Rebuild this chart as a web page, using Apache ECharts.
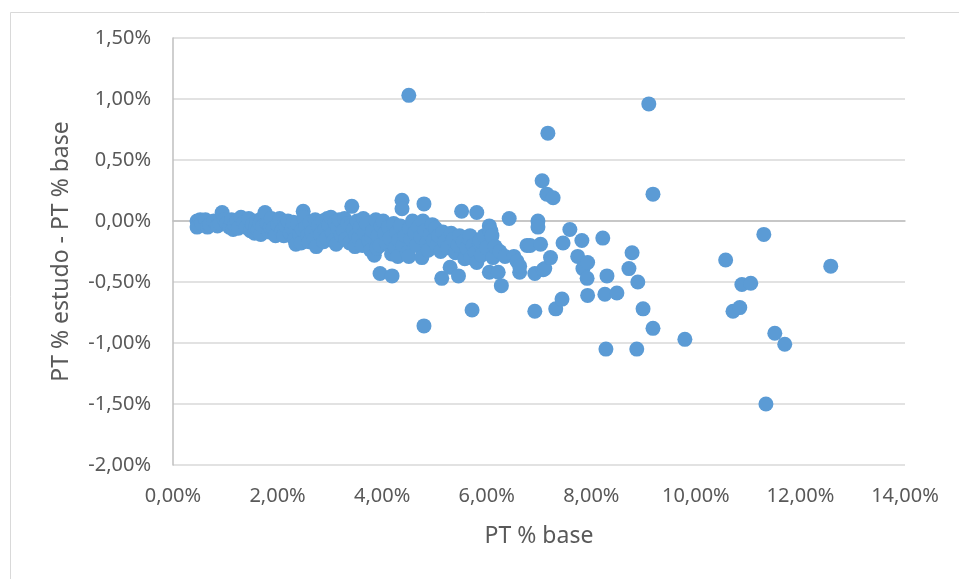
<!DOCTYPE html>
<html>
<head>
<meta charset="utf-8">
<script src="https://cdn.jsdelivr.net/npm/echarts@6/dist/echarts.min.js"></script>
<style>
html,body{margin:0;padding:0;background:#fff;}
#chart{width:959px;height:579px;}
</style>
</head>
<body>
<div id="chart"></div>
<script>
// PT % base (x) and PT % estudo - PT % base (y), in percent
const ptBase = [
  0.46,0.46,0.52,0.55,0.62,0.66,0.70,0.78,0.85,0.90,0.94,0.98,
  1.02,1.08,1.12,1.15,1.18,1.22,1.25,1.30,1.35,1.40,1.45,1.48,
  1.52,1.56,1.58,1.60,1.63,1.66,1.68,1.70,1.72,1.76,1.80,1.84,1.86,1.88,1.92,1.96,
  2.00,2.04,2.08,2.12,2.14,2.16,2.20,2.24,2.28,2.30,2.32,2.35,2.38,2.42,2.45,2.47,2.49,2.50,
  2.54,2.58,2.60,2.62,2.66,2.70,2.72,2.74,2.78,2.82,2.86,2.88,2.90,2.94,2.95,2.98,
  3.02,3.05,3.08,3.10,3.12,3.15,3.18,3.22,3.26,3.28,3.30,3.34,3.38,3.40,3.42,3.45,3.48,3.50,
  3.52,3.55,3.58,3.62,3.64,3.66,3.70,3.74,3.78,3.80,3.82,3.85,3.88,3.90,3.92,3.96,3.96,3.98,
  4.02,4.05,4.08,4.12,4.15,4.18,4.19,4.22,4.25,4.28,4.30,4.32,4.35,4.38,4.38,4.40,4.44,4.48,
  4.51,4.51,4.52,4.55,4.58,4.62,4.66,4.70,4.74,4.76,4.78,4.80,4.80,4.82,4.85,4.88,4.92,4.96,4.98,
  5.02,5.05,5.08,5.12,5.14,5.16,5.20,5.25,5.30,5.32,5.36,5.40,5.45,5.46,5.48,5.52,
  5.55,5.58,5.62,5.66,5.68,5.70,5.72,5.74,5.78,5.81,5.81,5.86,5.87,5.90,5.95,6.00,6.05,6.05,
  6.06,6.08,6.10,6.12,6.16,6.22,6.25,6.28,6.35,6.43,6.52,6.58,6.63,6.63,6.77,
  6.83,6.92,6.92,6.98,6.98,7.03,7.06,7.08,7.11,7.15,7.17,7.22,7.27,7.32,7.44,7.46,7.59,
  7.74,7.82,7.84,7.92,7.93,7.93,8.22,8.26,8.28,8.30,8.49,8.72,8.78,8.87,8.89,8.99,
  9.10,9.18,9.18,9.79,10.57,10.71,10.84,10.88,11.05,11.30,11.34,11.51,11.70,12.58
];
const ptDiff = [
  0.00,-0.05,0.01,-0.02,0.01,-0.05,-0.03,0.00,-0.04,-0.02,0.07,0.01,
  -0.02,-0.05,0.01,-0.07,-0.03,0.00,-0.06,0.03,-0.01,-0.05,0.02,-0.08,
  -0.03,-0.10,-0.05,0.00,-0.07,-0.02,-0.11,0.02,-0.04,0.07,-0.02,-0.09,-0.05,0.02,-0.06,-0.12,
  -0.03,0.02,-0.08,-0.12,-0.01,-0.04,0.00,-0.10,-0.06,-0.01,-0.15,-0.19,-0.02,-0.11,-0.18,-0.07,0.08,0.03,
  -0.05,-0.12,-0.17,-0.01,-0.09,-0.15,0.01,-0.21,-0.04,-0.11,0.00,-0.17,-0.07,-0.14,0.02,-0.03,
  0.03,-0.10,-0.16,-0.01,-0.19,-0.05,0.01,-0.12,-0.08,0.02,-0.15,-0.02,-0.18,-0.04,0.12,-0.07,-0.21,-0.12,
  0.00,-0.14,-0.05,-0.20,0.02,-0.10,-0.02,-0.16,-0.24,-0.13,-0.08,-0.28,0.01,-0.22,-0.12,-0.20,-0.43,-0.04,
  0.00,-0.10,-0.18,-0.05,-0.14,-0.27,-0.45,-0.02,-0.22,-0.09,-0.29,-0.16,-0.04,0.17,0.10,-0.20,-0.12,-0.26,
  1.03,-0.29,-0.06,-0.15,0.00,-0.10,-0.20,-0.05,-0.13,-0.30,0.00,0.14,-0.86,-0.08,-0.18,-0.24,-0.11,-0.03,-0.16,
  -0.06,-0.20,-0.12,-0.25,-0.47,-0.09,-0.17,-0.22,-0.38,-0.10,-0.15,-0.26,-0.20,-0.45,-0.12,0.08,
  -0.17,-0.31,-0.22,-0.14,-0.12,-0.30,-0.73,-0.20,-0.26,0.07,-0.34,-0.18,-0.16,-0.28,-0.12,-0.22,-0.04,-0.42,
  -0.08,-0.08,-0.12,-0.30,-0.21,-0.42,-0.25,-0.53,-0.29,0.02,-0.29,-0.33,-0.42,-0.37,-0.20,
  -0.20,-0.43,-0.74,0.00,-0.05,-0.19,0.33,-0.40,-0.39,0.22,0.72,-0.30,0.19,-0.72,-0.64,-0.18,-0.07,
  -0.29,-0.16,-0.39,-0.47,-0.34,-0.61,-0.14,-0.60,-1.05,-0.45,-0.59,-0.39,-0.26,-1.05,-0.50,-0.72,
  0.96,0.22,-0.88,-0.97,-0.32,-0.74,-0.71,-0.52,-0.51,-0.11,-1.50,-0.92,-1.01,-0.37
];
const xTicks = { min: 0, max: 14, interval: 2 };
const yTicks = { min: -2, max: 1.5, interval: 0.5 };
const xTitle = 'PT % base';
const yTitle = 'PT % estudo - PT % base';

const points = ptBase.map((x, i) => [x, ptDiff[i]]);
const fmt = v => v.toFixed(2).replace('.', ',') + '%';
const font = '"Noto Sans", "Open Sans", sans-serif';

const chart = echarts.init(document.getElementById('chart'), null, { renderer: 'canvas' });
chart.setOption({
  animation: false,
  backgroundColor: '#ffffff',
  graphic: [{
    type: 'rect', left: 10, top: 12, z: -10, silent: true,
    shape: { width: 960, height: 580 },
    style: { fill: '#ffffff', stroke: '#d9d9d9', lineWidth: 1 }
  }],
  grid: { left: 173, right: 54, top: 38, bottom: 114, containLabel: false },
  xAxis: [{
    type: 'value', min: xTicks.min, max: xTicks.max, interval: xTicks.interval,
    position: 'bottom',
    axisLine: { show: false, onZero: false },
    axisTick: { show: false },
    splitLine: { show: false },
    axisLabel: { formatter: fmt, color: '#595959', fontSize: 20, fontFamily: font, margin: 21 },
    name: xTitle, nameLocation: 'middle', nameGap: 60,
    nameTextStyle: { color: '#595959', fontSize: 23, fontFamily: font }
  }, {
    type: 'value', min: xTicks.min, max: xTicks.max, interval: xTicks.interval,
    position: 'bottom',
    axisLine: { show: true, onZero: true, lineStyle: { color: '#bfbfbf', width: 1.5 } },
    axisTick: { show: false }, axisLabel: { show: false }, splitLine: { show: false }
  }],
  yAxis: {
    type: 'value', min: yTicks.min, max: yTicks.max, interval: yTicks.interval,
    axisLine: { show: true, lineStyle: { color: '#bfbfbf', width: 1.5 } },
    axisTick: { show: false },
    splitLine: { show: true, lineStyle: { color: '#d9d9d9', width: 1.5 } },
    axisLabel: { formatter: fmt, color: '#595959', fontSize: 20, fontFamily: font, margin: 22 },
    name: yTitle, nameLocation: 'middle', nameGap: 100, nameRotate: 90,
    nameTextStyle: { color: '#595959', fontSize: 23, fontFamily: font }
  },
  series: [{
    type: 'scatter',
    xAxisIndex: 0,
    data: points,
    symbol: 'circle',
    symbolSize: 15,
    itemStyle: { color: '#5b9bd5', opacity: 1 },
    emphasis: { disabled: true }
  }]
});
</script>
</body>
</html>
